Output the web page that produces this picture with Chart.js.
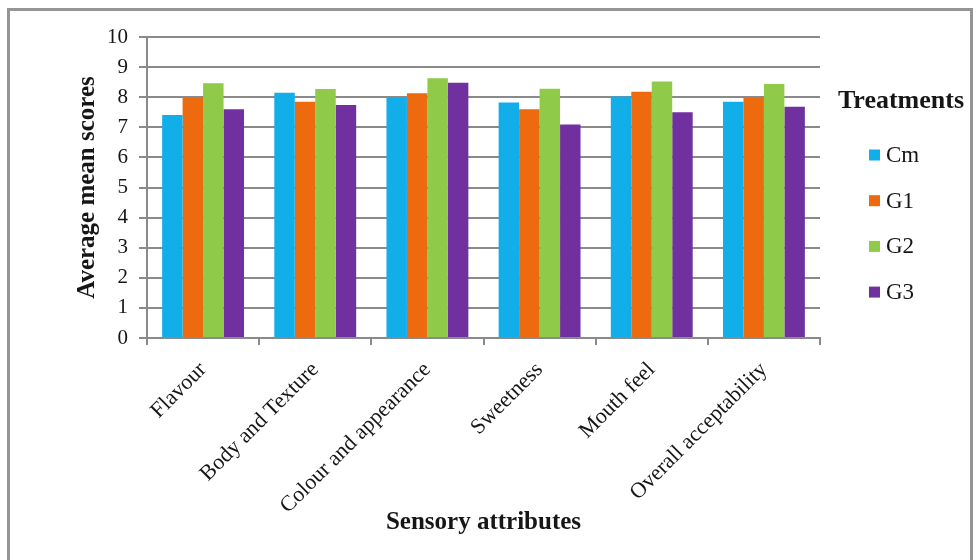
<!DOCTYPE html>
<html>
<head>
<meta charset="utf-8">
<title>Sensory attributes</title>
<script src="https://cdn.jsdelivr.net/npm/chart.js@4/dist/chart.umd.min.js"></script>
<style>
  html, body { margin: 0; padding: 0; background: #ffffff; }
  #wrap { position: relative; width: 979px; height: 560px; overflow: hidden; }
  #frame {
    position: absolute; left: 7px; top: 8px; width: 966px; height: 620px;
    box-sizing: border-box; border: 3px solid #959595; pointer-events: none;
  }
  canvas { position: absolute; left: 0; top: 0; }
</style>
</head>
<body>
<div id="wrap">
  <canvas id="chart" width="979" height="560"></canvas>
  <div id="frame"></div>
</div>
<script>
// Sensory attributes scored by panel, per treatment
const categories = ['Flavour', 'Body and Texture', 'Colour and appearance', 'Sweetness', 'Mouth feel', 'Overall acceptability'];
const seriesNames = ['Cm', 'G1', 'G2', 'G3'];
const cmScores = [7.41, 8.15, 8.00, 7.82, 8.02, 7.85];
const g1Scores = [8.00, 7.85, 8.13, 7.60, 8.18, 8.00];
const g2Scores = [8.46, 8.27, 8.63, 8.28, 8.52, 8.44];
const g3Scores = [7.60, 7.74, 8.48, 7.09, 7.50, 7.68];
const yMin = 0, yMax = 10, yStep = 1;

const seriesColors = ['#12AEEA', '#EE6A0E', '#8FCB48', '#7030A0'];
const seriesValues = [cmScores, g1Scores, g2Scores, g3Scores];

const serif = "'Liberation Serif', 'Times New Roman', serif";
const gridGray = '#8a8a8a';
const textDark = '#161616';

// Legend drawn beside the plot, using dataset labels and colours
const sideLegend = {
  id: 'sideLegend',
  afterDraw(chart) {
    const ctx = chart.ctx;
    ctx.save();
    ctx.fillStyle = textDark;
    ctx.textBaseline = 'middle';
    ctx.textAlign = 'center';
    ctx.font = 'bold 26px ' + serif;
    ctx.fillText('Treatments', 901, 101);
    ctx.textAlign = 'left';
    ctx.font = '23px ' + serif;
    chart.data.datasets.forEach((ds, i) => {
      const y = 155 + i * 45.7;
      ctx.fillStyle = ds.backgroundColor;
      ctx.fillRect(869, y - 5.5, 11, 11);
      ctx.fillStyle = textDark;
      ctx.fillText(ds.label, 886, y + 1);
    });
    ctx.restore();
  }
};

new Chart(document.getElementById('chart'), {
  type: 'bar',
  data: {
    labels: categories,
    datasets: seriesNames.map((name, i) => ({
      label: name,
      data: seriesValues[i],
      backgroundColor: seriesColors[i],
      borderWidth: 0,
      categoryPercentage: 0.73,
      barPercentage: 1.0
    }))
  },
  options: {
    responsive: false,
    animation: false,
    devicePixelRatio: 1,
    layout: { padding: { left: 69, top: 37, right: 159, bottom: 18 } },
    plugins: {
      legend: { display: false },
      tooltip: { enabled: false }
    },
    scales: {
      x: {
        grid: {
          display: true, drawOnChartArea: false, offset: true,
          color: gridGray, lineWidth: 2, tickLength: 7
        },
        border: { display: true, color: gridGray, width: 2 },
        ticks: {
          color: textDark, minRotation: 45, maxRotation: 45, padding: 12,
          font: { family: serif, size: 22 }
        },
        title: {
          display: true, text: 'Sensory attributes', color: textDark,
          font: { family: serif, size: 25, weight: 'bold' }
        },
        afterFit(scale) { scale.height = 204; }
      },
      y: {
        min: yMin, max: yMax,
        grid: { color: gridGray, lineWidth: 2, tickLength: 8 },
        border: { display: true, color: gridGray, width: 2 },
        ticks: {
          stepSize: yStep, color: textDark, padding: 11,
          font: { family: serif, size: 21 }
        },
        title: {
          display: true, text: 'Average mean scores', color: textDark,
          font: { family: serif, size: 25, weight: 'bold' }
        },
        afterFit(scale) { scale.width = 78; }
      }
    }
  },
  plugins: [sideLegend]
});
</script>
</body>
</html>
